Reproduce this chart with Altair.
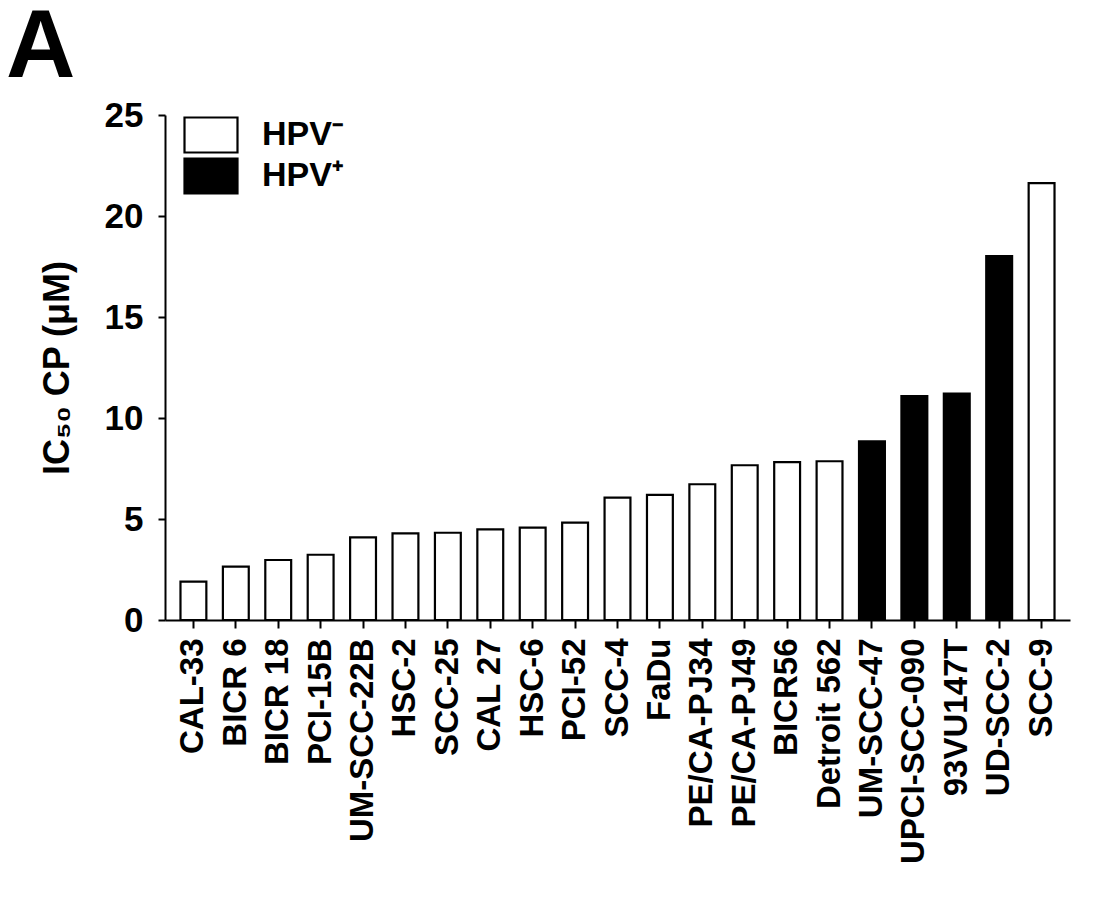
import altair as alt
import pandas as pd

cell_lines = ["CAL-33", "BICR 6", "BICR 18", "PCI-15B", "UM-SCC-22B", "HSC-2", "SCC-25",
              "CAL 27", "HSC-6", "PCI-52", "SCC-4", "FaDu", "PE/CA-PJ34", "PE/CA-PJ49",
              "BICR56", "Detroit 562", "UM-SCC-47", "UPCI-SCC-090", "93VU147T", "UD-SCC-2", "SCC-9"]
ic50 = [1.90, 2.64, 2.97, 3.23, 4.09, 4.29, 4.32, 4.49, 4.57, 4.82, 6.06, 6.19, 6.72, 7.66,
        7.82, 7.86, 8.85, 11.08, 11.21, 18.02, 21.63]
hpv_status = ["HPV⁻"] * 16 + ["HPV⁺"] * 4 + ["HPV⁻"]
status_order = ["HPV⁻", "HPV⁺"]
status_colors = ["white", "black"]

df = pd.DataFrame({"cell": cell_lines, "ic50": ic50, "hpv": hpv_status})

FONT = "Liberation Sans"

chart = alt.Chart(df).mark_bar(
    stroke="black", strokeWidth=2.2
).encode(
    x=alt.X("cell:N", sort=cell_lines, title=None,
            scale=alt.Scale(paddingInner=0.39, paddingOuter=0.365),
            axis=alt.Axis(labelAngle=-90, labelFontSize=33, labelFont=FONT, labelFontWeight="bold",
                          labelColor="black", labelPadding=10, labelLimit=500, tickSize=8,
                          tickWidth=2, tickColor="black", domainColor="black", domainWidth=2,
                          labelBaseline="middle")),
    y=alt.Y("ic50:Q", title="IC₅₀ CP (μM)",
            scale=alt.Scale(domain=[0, 25], nice=False),
            axis=alt.Axis(values=[0, 5, 10, 15, 20, 25], grid=False, labelFontSize=35,
                          labelFont=FONT, labelFontWeight="bold", labelColor="black",
                          labelPadding=15, tickSize=7, tickWidth=2, tickColor="black",
                          domainColor="black", domainWidth=2, titleFontSize=36,
                          titleFont=FONT, titleFontWeight="bold", titleColor="black",
                          titlePadding=28)),
    fill=alt.Fill("hpv:N", scale=alt.Scale(domain=status_order, range=status_colors),
                  legend=alt.Legend(title=None, orient="none", legendX=27, legendY=1,
                                    symbolType="M-1.514,-1L1.514,-1L1.514,1L-1.514,1Z",
                                    symbolSize=1225, symbolStrokeColor="black",
                                    symbolStrokeWidth=2.2, labelFontSize=34, labelFont=FONT,
                                    labelFontWeight="bold", labelColor="black",
                                    labelOffset=32, rowPadding=-3, padding=0)),
).properties(
    width=905, height=505,
    title=alt.TitleParams("A", anchor="start", frame="group", fontSize=96, font=FONT,
                          fontWeight="bold", color="black", dx=-159, dy=93, offset=18,
                          baseline="alphabetic"),
    autosize=alt.AutoSizeParams(type="none"),
    padding={"left": 157, "top": 107, "right": 16, "bottom": 270},
).configure_view(stroke=None)

chart.save("out.html", embed_options={"renderer": "svg", "actions": False})
